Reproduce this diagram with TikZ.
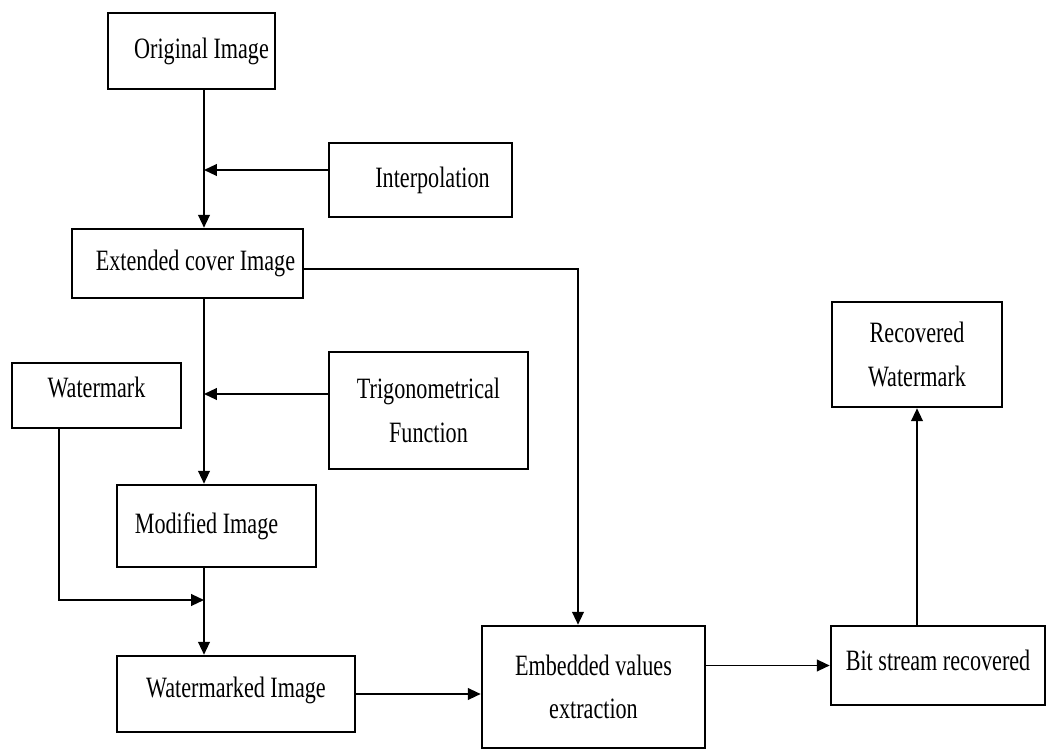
\documentclass[tikz,border=0pt]{standalone}
\usepackage{fontspec}
\setmainfont{Liberation Serif}[FakeStretch=0.75]
\usetikzlibrary{arrows.meta,positioning}

\begin{document}
\begin{tikzpicture}[x=0.025cm,y=-0.025cm,every node/.style={font=\fontsize{21}{31}\selectfont,align=center},box/.style={draw,line width=1.8pt,inner sep=0pt},arrow/.style={-{Triangle[length=3.2mm,width=2.9mm]},line width=1.3pt}]
\useasboundingbox (0,0) rectangle (1049,753);
\node[box,minimum width=4.175cm,minimum height=1.9cm] (orig) at (191.5,51) {\hspace*{0.5cm}Original Image};
\node[box,minimum width=4.575cm,minimum height=1.85cm] (interp) at (420.5,180) {\hspace*{0.6cm}Interpolation};
\node[box,minimum width=5.775cm,minimum height=1.725cm] (ext) at (187.5,263.5) {\hspace*{0.4cm}Extended cover Image};
\node[box,minimum width=4.225cm,minimum height=1.625cm] (wm) at (96.5,395.5) {Watermark\\[-0.7cm]};
\node[box,minimum width=4.975cm,minimum height=2.925cm] (trig) at (428.5,410.5) {Trigonometrical\\Function};
\node[box,minimum width=4.975cm,minimum height=2.05cm] (mod) at (216.5,526) {Modified Image\hspace*{0.5cm}};
\node[box,minimum width=5.95cm,minimum height=1.9cm] (wmd) at (236,694) {Watermarked Image\\[-0.75cm]};
\node[box,minimum width=5.575cm,minimum height=3.05cm] (emb) at (593.5,687) {Embedded values\\extraction};
\node[box,minimum width=5.35cm,minimum height=1.975cm] (bit) at (938,665.5) {Bit stream recovered\\[-0.85cm]};
\node[box,minimum width=4.25cm,minimum height=2.625cm] (rec) at (917,354.5) {Recovered\\Watermark};
% trunk of the embedding side and the joins on it
\coordinate (trunk) at (204,0);
\coordinate (j1) at (204,170);
\coordinate (j2) at (204,394);
\coordinate (j3) at (204,600);
\coordinate (wmtap) at (59,0);
\coordinate (tap) at (578,0);
\draw[arrow] (orig.south -| trunk) -- (ext.north -| trunk);
\draw[arrow] (interp.west |- j1) -- (j1);
\draw[arrow] (ext.south -| trunk) -- (mod.north -| trunk);
\draw[arrow] (trig.west |- j2) -- (j2);
\draw[arrow] (wm.south -| wmtap) |- (j3);
\draw[arrow] (mod.south -| trunk) -- (wmd.north -| trunk);
\draw[arrow] ([yshift=-0.14cm]ext.east) -| (emb.north -| tap);
\draw[arrow] (wmd.east) -- (emb.west |- wmd.east);
\draw[arrow] (emb.east |- bit.west) -- (bit.west);
\draw[arrow] (bit.north -| rec.south) -- (rec.south);
\end{tikzpicture}
\end{document}
